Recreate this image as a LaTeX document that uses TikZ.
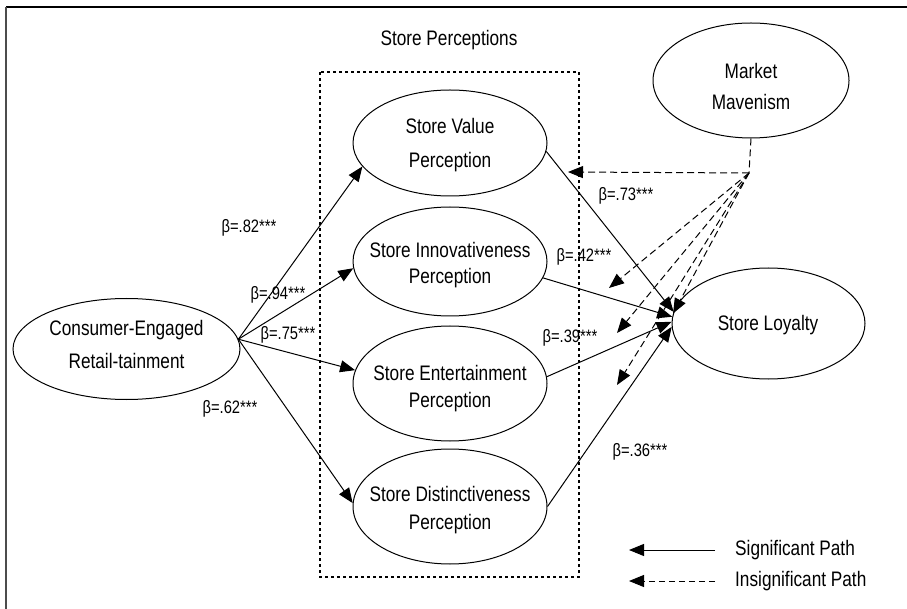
\documentclass[tikz,border=0pt]{standalone}
\usepackage{fontspec}
\setmainfont{Liberation Sans}[FakeStretch=0.82]
\usetikzlibrary{arrows.meta,shapes.geometric}
\begin{document}
\begin{tikzpicture}[x=1pt,y=-1pt,
  ell/.style={draw, ellipse, line width=1pt, inner sep=0pt},
  lbl/.style={font=\fontsize{21}{#1}\selectfont, align=center, inner sep=0pt},
  lbl/.default=28,
  betalbl/.style={font=\fontsize{18}{20}\selectfont, inner sep=0pt},
  sig/.style={line width=1pt, -{Triangle[length=15pt,width=12pt]}},
  insig/.style={sig, dash pattern=on 7pt off 4pt},
  dotbox/.style={line width=2.8pt, dash pattern=on 2.8pt off 3.2pt},
  ]
\useasboundingbox (0,0) rectangle (907,609);
% frame
\draw[line width=1.5pt] (6,7) -- (907,7);
\draw[line width=2pt, gray!60!black] (6,7) -- (6,609);
% store perceptions box
\draw[dotbox] (320,72) rectangle (579,577);
\node[lbl] (sptitle) at (449,40) {Store Perceptions};
% ellipses
\node[ell, minimum width=194pt, minimum height=106pt] (sv) at (450,143) {};
\node[ell, minimum width=194pt, minimum height=109pt] (si) at (450,261.5) {};
\node[ell, minimum width=194pt, minimum height=115pt] (se) at (450,383.5) {};
\node[ell, minimum width=194pt, minimum height=115pt] (sd) at (450,506.5) {};
\node[ell, minimum width=227pt, minimum height=101pt] (ce) at (126.5,349) {};
\node[ell, minimum width=193pt, minimum height=111pt] (sl) at (768.5,323.5) {};
\node[ell, minimum width=196pt, minimum height=115pt] (mm) at (751,80.5) {};
% texts
\node[lbl=34] (svt) at (450,145) {Store Value\\Perception};
\node[lbl=26] (sit) at (450,265) {Store Innovativeness\\Perception};
\node[lbl=27] (set) at (450,389) {Store Entertainment\\Perception};
\node[lbl=28] (sdt) at (450,510) {Store Distinctiveness\\Perception};
\node[lbl=33] (cet) at (126.5,344.5) {Consumer-Engaged\\Retail-tainment};
\node[lbl] (slt) at (768,325) {Store Loyalty};
\node[lbl=31] (mmt) at (751,86) {Market\\Mavenism};
% left paths
\draw[sig] (ce.5) -- (sv.195);
\draw[sig] (ce.5) -- (si.184);
\draw[sig] (ce.5) -- (se.172);
\draw[sig] (ce.5) -- (sd.178);
% right paths
\draw[sig] (sv.355) -- (sl.173);
\draw[sig] (si.350) -- (sl.176);
\draw[sig] (se.4) -- (sl.179);
\draw[sig] (sd.0) -- (sl.182);
% moderation (insignificant) paths
\coordinate (mmj) at (749,173);
\coordinate (m1) at (568,172);
\coordinate (m2) at (609,288);
\coordinate (m3) at (617,333);
\coordinate (m4) at (617,385);
\draw[line width=1pt, dash pattern=on 7pt off 4pt] (mm.south) -- (mmj);
\draw[insig] (mmj) -- (m1);
\draw[insig] (mmj) -- (m2);
\draw[insig] (mmj) -- (m3);
\draw[insig] (mmj) -- (m4);
\draw[insig] (mmj) -- (sl.174);
% beta labels
\node[betalbl] (b1) at (249,228) {β=.82***};
\node[betalbl] (b2) at (278,295) {β=.94***};
\node[betalbl] (b3) at (288,335) {β=.75***};
\node[betalbl] (b4) at (230,409) {β=.62***};
\node[betalbl] (b5) at (626,196) {β=.73***};
\node[betalbl] (b6) at (584,257) {β=.42***};
\node[betalbl] (b7) at (570,338) {β=.39***};
\node[betalbl] (b8) at (640,452) {β=.36***};
% legend
\coordinate (l1a) at (629,550);
\coordinate (l1b) at (715,550);
\coordinate (l2a) at (629,581);
\coordinate (l2b) at (715,581);
\draw[sig] (l1b) -- (l1a);
\draw[sig, dash pattern=on 6pt off 4pt] (l2b) -- (l2a);
\node[lbl, anchor=west] (lg1) at (735,550) {Significant Path};
\node[lbl, anchor=west] (lg2) at (735,581) {Insignificant Path};
\end{tikzpicture}
\end{document}
